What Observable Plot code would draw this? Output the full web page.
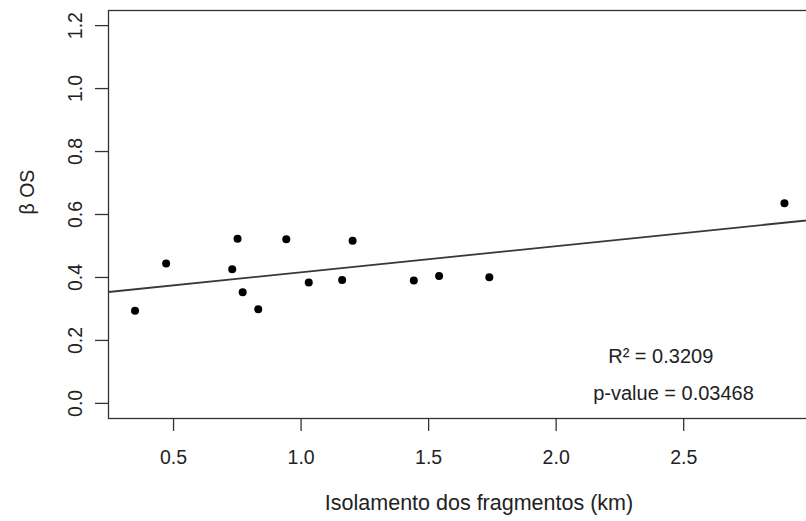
<!DOCTYPE html>
<html><head><meta charset="utf-8">
<script src="https://cdn.jsdelivr.net/npm/d3@7"></script>
<script src="https://cdn.jsdelivr.net/npm/@observablehq/plot@0.6"></script>
<style>
html,body{margin:0;padding:0;overflow:hidden;background:#fff;width:806px;height:521px;}
#chart{width:806px;height:521px;overflow:hidden;}
</style></head><body><div id="chart"></div>
<script>
// Data
const isolation = [0.349,0.471,0.730,0.751,0.771,0.832,0.942,1.030,1.161,1.202,1.442,1.541,1.738,2.895];
const betaOS    = [0.294,0.444,0.426,0.523,0.353,0.299,0.521,0.384,0.392,0.517,0.390,0.405,0.401,0.636];
const xTicks = [0.5, 1.0, 1.5, 2.0, 2.5];
const yTicks = [0.0, 0.2, 0.4, 0.6, 0.8, 1.0, 1.2];
const xDomain = [0.245, 3.15];
const yDomain = [-0.048, 1.248];
const annotationText = ["R² = 0.3209", "p-value = 0.03468"];
const annotationX = [2.41, 2.46];
const annotationY = [0.15, 0.03];
const xLabel = "Isolamento dos fragmentos (km)";
const yLabel = "β OS";

const points = isolation.map((x, i) => ({x, y: betaOS[i]}));
// Ordinary least squares fit (drawn like R's abline across the plot region)
const mx = d3.mean(isolation), my = d3.mean(betaOS);
const sxy = d3.sum(isolation, (x, i) => (x - mx) * (betaOS[i] - my));
const sxx = d3.sum(isolation, x => (x - mx) ** 2);
const slope = sxy / sxx, intercept = my - slope * mx;
const fitLine = xDomain.map(x => ({x, y: intercept + slope * x}));
const notes = annotationText.map((t, i) => ({t, x: annotationX[i], y: annotationY[i]}));

const ink = "#222";
const chart = Plot.plot({
  width: 850,
  height: 521,
  marginLeft: 108,
  marginRight: 1,
  marginTop: 10,
  marginBottom: 103,
  style: {fontFamily: "'Liberation Sans', Arial, sans-serif", color: ink, background: "#fff", maxWidth: "none", overflow: "visible"},
  x: {domain: xDomain},
  y: {domain: yDomain},
  marks: [
    Plot.frame({stroke: "#333", strokeWidth: 1.3}),
    Plot.axisX({ticks: xTicks, tickFormat: d3.format(".1f"), tickSize: 13, tickPadding: 19, fontSize: 19.5, label: null, stroke: "#333", strokeWidth: 1.3}),
    Plot.axisY({ticks: yTicks, tickFormat: d3.format(".1f"), tickSize: 13, tickPadding: 14, tickRotate: -90, fontSize: 19.5, label: null, stroke: "#333", strokeWidth: 1.3}),
    Plot.text([xLabel], {frameAnchor: "bottom", dy: 85, fontSize: 21.5, fill: ink, lineAnchor: "middle"}),
    Plot.text([yLabel], {frameAnchor: "left", dx: -81, rotate: -90, fontSize: 19.5, fill: ink, lineAnchor: "middle"}),
    Plot.line(fitLine, {x: "x", y: "y", stroke: "#383838", strokeWidth: 1.8, clip: true}),
    Plot.dot(points, {x: "x", y: "y", r: 4, fill: "#000", stroke: null}),
    Plot.text(notes, {x: "x", y: "y", text: "t", fontSize: 20, fill: ink, textAnchor: "middle", lineAnchor: "middle"})
  ]
});
document.getElementById("chart").append(chart);
</script>
</body></html>
